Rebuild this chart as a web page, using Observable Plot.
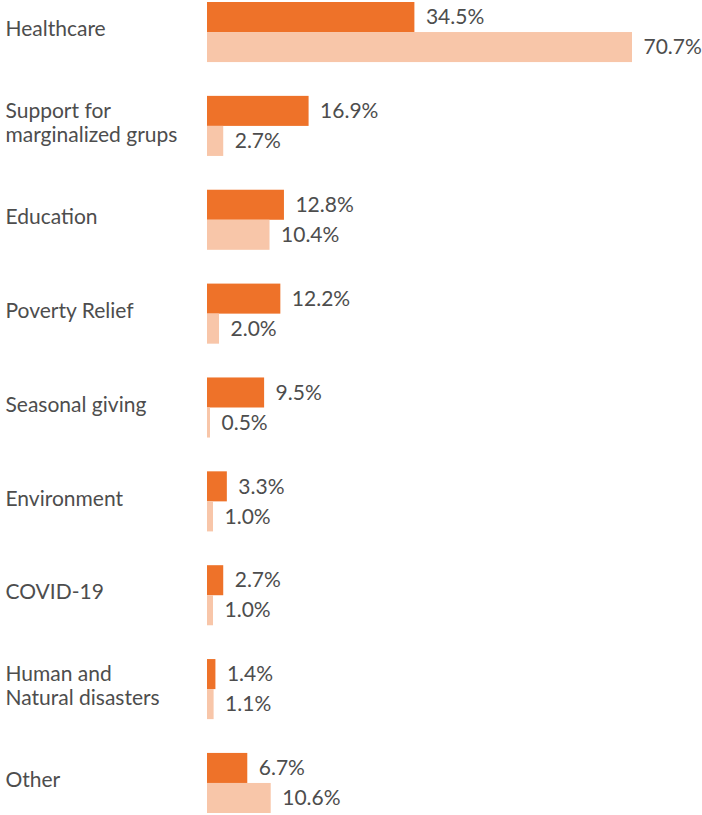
<!DOCTYPE html>
<html>
<head>
<meta charset="utf-8">
<script src="https://cdn.jsdelivr.net/npm/d3@7"></script>
<script src="https://cdn.jsdelivr.net/npm/@observablehq/plot@0.6"></script>
<style>
  html, body { margin: 0; padding: 0; background: #fff; }
  #chart svg { display: block; }
</style>
</head>
<body>
<div id="chart"></div>
<script>
const categories = [
  "Healthcare",
  "Support for\nmarginalized grups",
  "Education",
  "Poverty Relief",
  "Seasonal giving",
  "Environment",
  "COVID-19",
  "Human and\nNatural disasters",
  "Other"
];
const seriesNames = ["Series A", "Series B"];
const valuesA = [34.5, 16.9, 12.8, 12.2, 9.5, 3.3, 2.7, 1.4, 6.7];
const valuesB = [70.7, 2.7, 10.4, 2.0, 0.5, 1.0, 1.0, 1.1, 10.6];
const seriesColors = ["#EE7229", "#F8C6A9"];

const data = categories.flatMap((c, i) => [
  {category: c, series: seriesNames[0], value: valuesA[i]},
  {category: c, series: seriesNames[1], value: valuesB[i]}
]);

const font = "Lato, 'Noto Sans', sans-serif";
const textColor = "#4d4d4d";

const chart = Plot.plot({
  width: 702,
  height: 815,
  marginLeft: 207,
  marginRight: 70,
  marginTop: 2,
  marginBottom: 2,
  x: {domain: [0, 70.7], axis: null},
  y: {domain: seriesNames, padding: 0, round: false, axis: null},
  fy: {domain: categories, paddingInner: 0.36, paddingOuter: 0, round: false, axis: null},
  color: {domain: seriesNames, range: seriesColors},
  style: {fontFamily: font, fontSize: "21px", color: textColor, background: "#fff"},
  marks: [
    Plot.barX(data, {x: "value", y: "series", fy: "category", fill: "series"}),
    Plot.text(data, {
      x: "value", y: "series", fy: "category",
      text: d => d.value.toFixed(1) + "%",
      textAnchor: "start", dx: 11, fill: textColor, fontSize: 21
    }),
    Plot.text(categories, {
      fy: d => d, text: d => d,
      frameAnchor: "left", textAnchor: "start", dx: -202, dy: -4,
      fill: textColor, fontSize: 21, lineHeight: 1.15
    })
  ]
});
document.getElementById("chart").appendChild(chart);
</script>
</body>
</html>
